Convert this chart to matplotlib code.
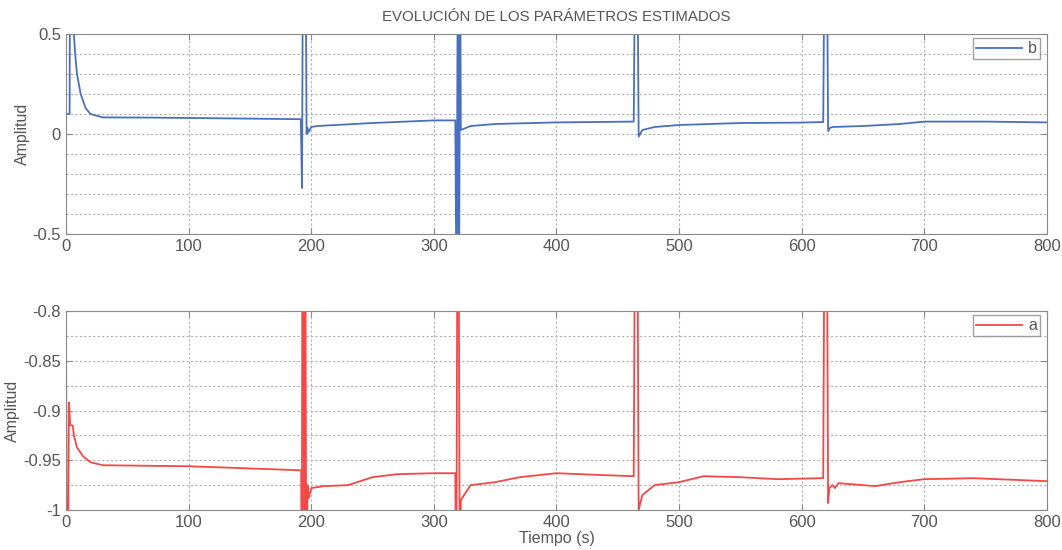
import matplotlib
matplotlib.use("Agg")
import matplotlib.pyplot as plt
from matplotlib.ticker import MultipleLocator

plt.rcParams["font.family"] = ["Liberation Sans", "DejaVu Sans"]

TITLE = "EVOLUCIÓN DE LOS PARÁMETROS ESTIMADOS"

# --- parámetro b (values beyond +-0.5 are clipped spikes)
t_b = [0, 3, 3.3, 5.5, 6.5, 7.5, 9, 12, 16, 20, 30, 70, 150, 191.5,
       192.5, 193.2, 195.5, 196.2, 197, 198, 200, 205, 220, 250, 300, 317.5,
       318.5, 319.5, 320.5, 321.5, 322, 330, 350, 400, 463,
       464, 466, 467, 470, 480, 500, 550, 600, 617.5,
       618.5, 620.5, 621.5, 623, 625, 650, 680, 700, 750, 800]
b = [0.10, 0.10, 0.9, 0.9, 0.5, 0.40, 0.30, 0.20, 0.13, 0.10, 0.083, 0.082, 0.077, 0.074,
     -0.27, 0.9, 0.9, 0.0, 0.03, 0.01, 0.035, 0.040, 0.045, 0.055, 0.068, 0.068,
     -0.9, 0.9, -0.9, 0.9, 0.02, 0.040, 0.050, 0.058, 0.062,
     0.9, 0.9, -0.013, 0.020, 0.035, 0.045, 0.055, 0.057, 0.060,
     0.9, 0.9, 0.015, 0.030, 0.035, 0.040, 0.050, 0.062, 0.062, 0.058]

# --- parámetro a
t_a = [0, 0.8, 1.6, 2.4, 3.5, 5.5, 6.5, 9, 14, 20, 30, 100, 190, 191.8,
       192.3, 192.8, 193.5, 194.5, 195.2, 196, 197, 198, 200, 210, 230, 250, 270, 300, 317.5,
       318.3, 319.2, 320.2, 321.2, 322, 330, 350, 370, 400, 440, 463,
       464, 466, 467, 470, 480, 500, 520, 550, 580, 617.5,
       618.5, 620.5, 621.5, 622.5, 625, 627, 630, 650, 660, 680, 700, 740, 780, 800]
a = [-0.80, -1.10, -1.10, -0.892, -0.915, -0.915, -0.925, -0.937, -0.946, -0.952, -0.955, -0.956, -0.960, -0.960,
     -1.10, -0.70, -0.70, -1.10, -0.70, -1.10, -0.975, -0.988, -0.978, -0.976, -0.975, -0.967, -0.964, -0.963, -0.963,
     -1.10, -0.70, -0.70, -1.10, -0.990, -0.975, -0.972, -0.967, -0.963, -0.965, -0.966,
     -0.70, -0.70, -1.00, -0.985, -0.975, -0.972, -0.966, -0.967, -0.969, -0.968,
     -0.70, -0.70, -0.993, -0.978, -0.975, -0.978, -0.973, -0.975, -0.976, -0.972, -0.969, -0.968, -0.970, -0.971]

BLUE = "#4a6fbe"
RED = "#f24848"
GRID = "#b0b0b0"
SPINE = "#8a8a8a"
TEXT = "#555555"

fig = plt.figure(figsize=(10.62, 5.5), dpi=100)
ax1 = fig.add_axes([0.0621, 0.5745, 0.9238, 0.3637])
ax2 = fig.add_axes([0.0621, 0.0727, 0.9238, 0.3618])

def style(ax, ylim, major, minor):
    ax.set_xlim(0, 800)
    ax.set_ylim(*ylim)
    ax.xaxis.set_major_locator(MultipleLocator(100))
    ax.yaxis.set_major_locator(MultipleLocator(major))
    ax.yaxis.set_minor_locator(MultipleLocator(minor))
    ax.grid(True, which="both", axis="y", linestyle=(0, (2, 2)), color=GRID, linewidth=0.8)
    ax.grid(True, which="major", axis="x", linestyle=(0, (2, 2)), color=GRID, linewidth=0.8)
    ax.tick_params(direction="in", which="both", colors=SPINE, labelcolor=TEXT,
                   labelsize=12, top=True, right=True, length=4)
    ax.tick_params(which="minor", length=0)
    for s in ax.spines.values():
        s.set_color(SPINE)
    ax.yaxis.set_major_formatter(lambda v, p: f"{v:g}")
    ax.set_ylabel("Amplitud", fontsize=11.5, color=TEXT, labelpad=2)

def add_legend(ax):
    ax.legend(loc="upper right", bbox_to_anchor=(0.993, 0.98), borderaxespad=0,
              fontsize=11.5, frameon=True, fancybox=False, edgecolor=SPINE,
              handlelength=2.9, handletextpad=0.35, borderpad=0.2, labelcolor=TEXT)

ax1.plot(t_b, b, color=BLUE, linewidth=1.3, label="b")
style(ax1, (-0.5, 0.5), 0.5, 0.1)
ax1.set_title(TITLE, fontsize=10.8, color=TEXT, pad=9)
add_legend(ax1)

ax2.plot(t_a, a, color=RED, linewidth=1.3, label="a")
style(ax2, (-1.0, -0.8), 0.05, 0.025)
ax2.set_xlabel("Tiempo (s)", fontsize=11.5, color=TEXT, labelpad=1)
add_legend(ax2)

fig.savefig("out.png", dpi=100)
